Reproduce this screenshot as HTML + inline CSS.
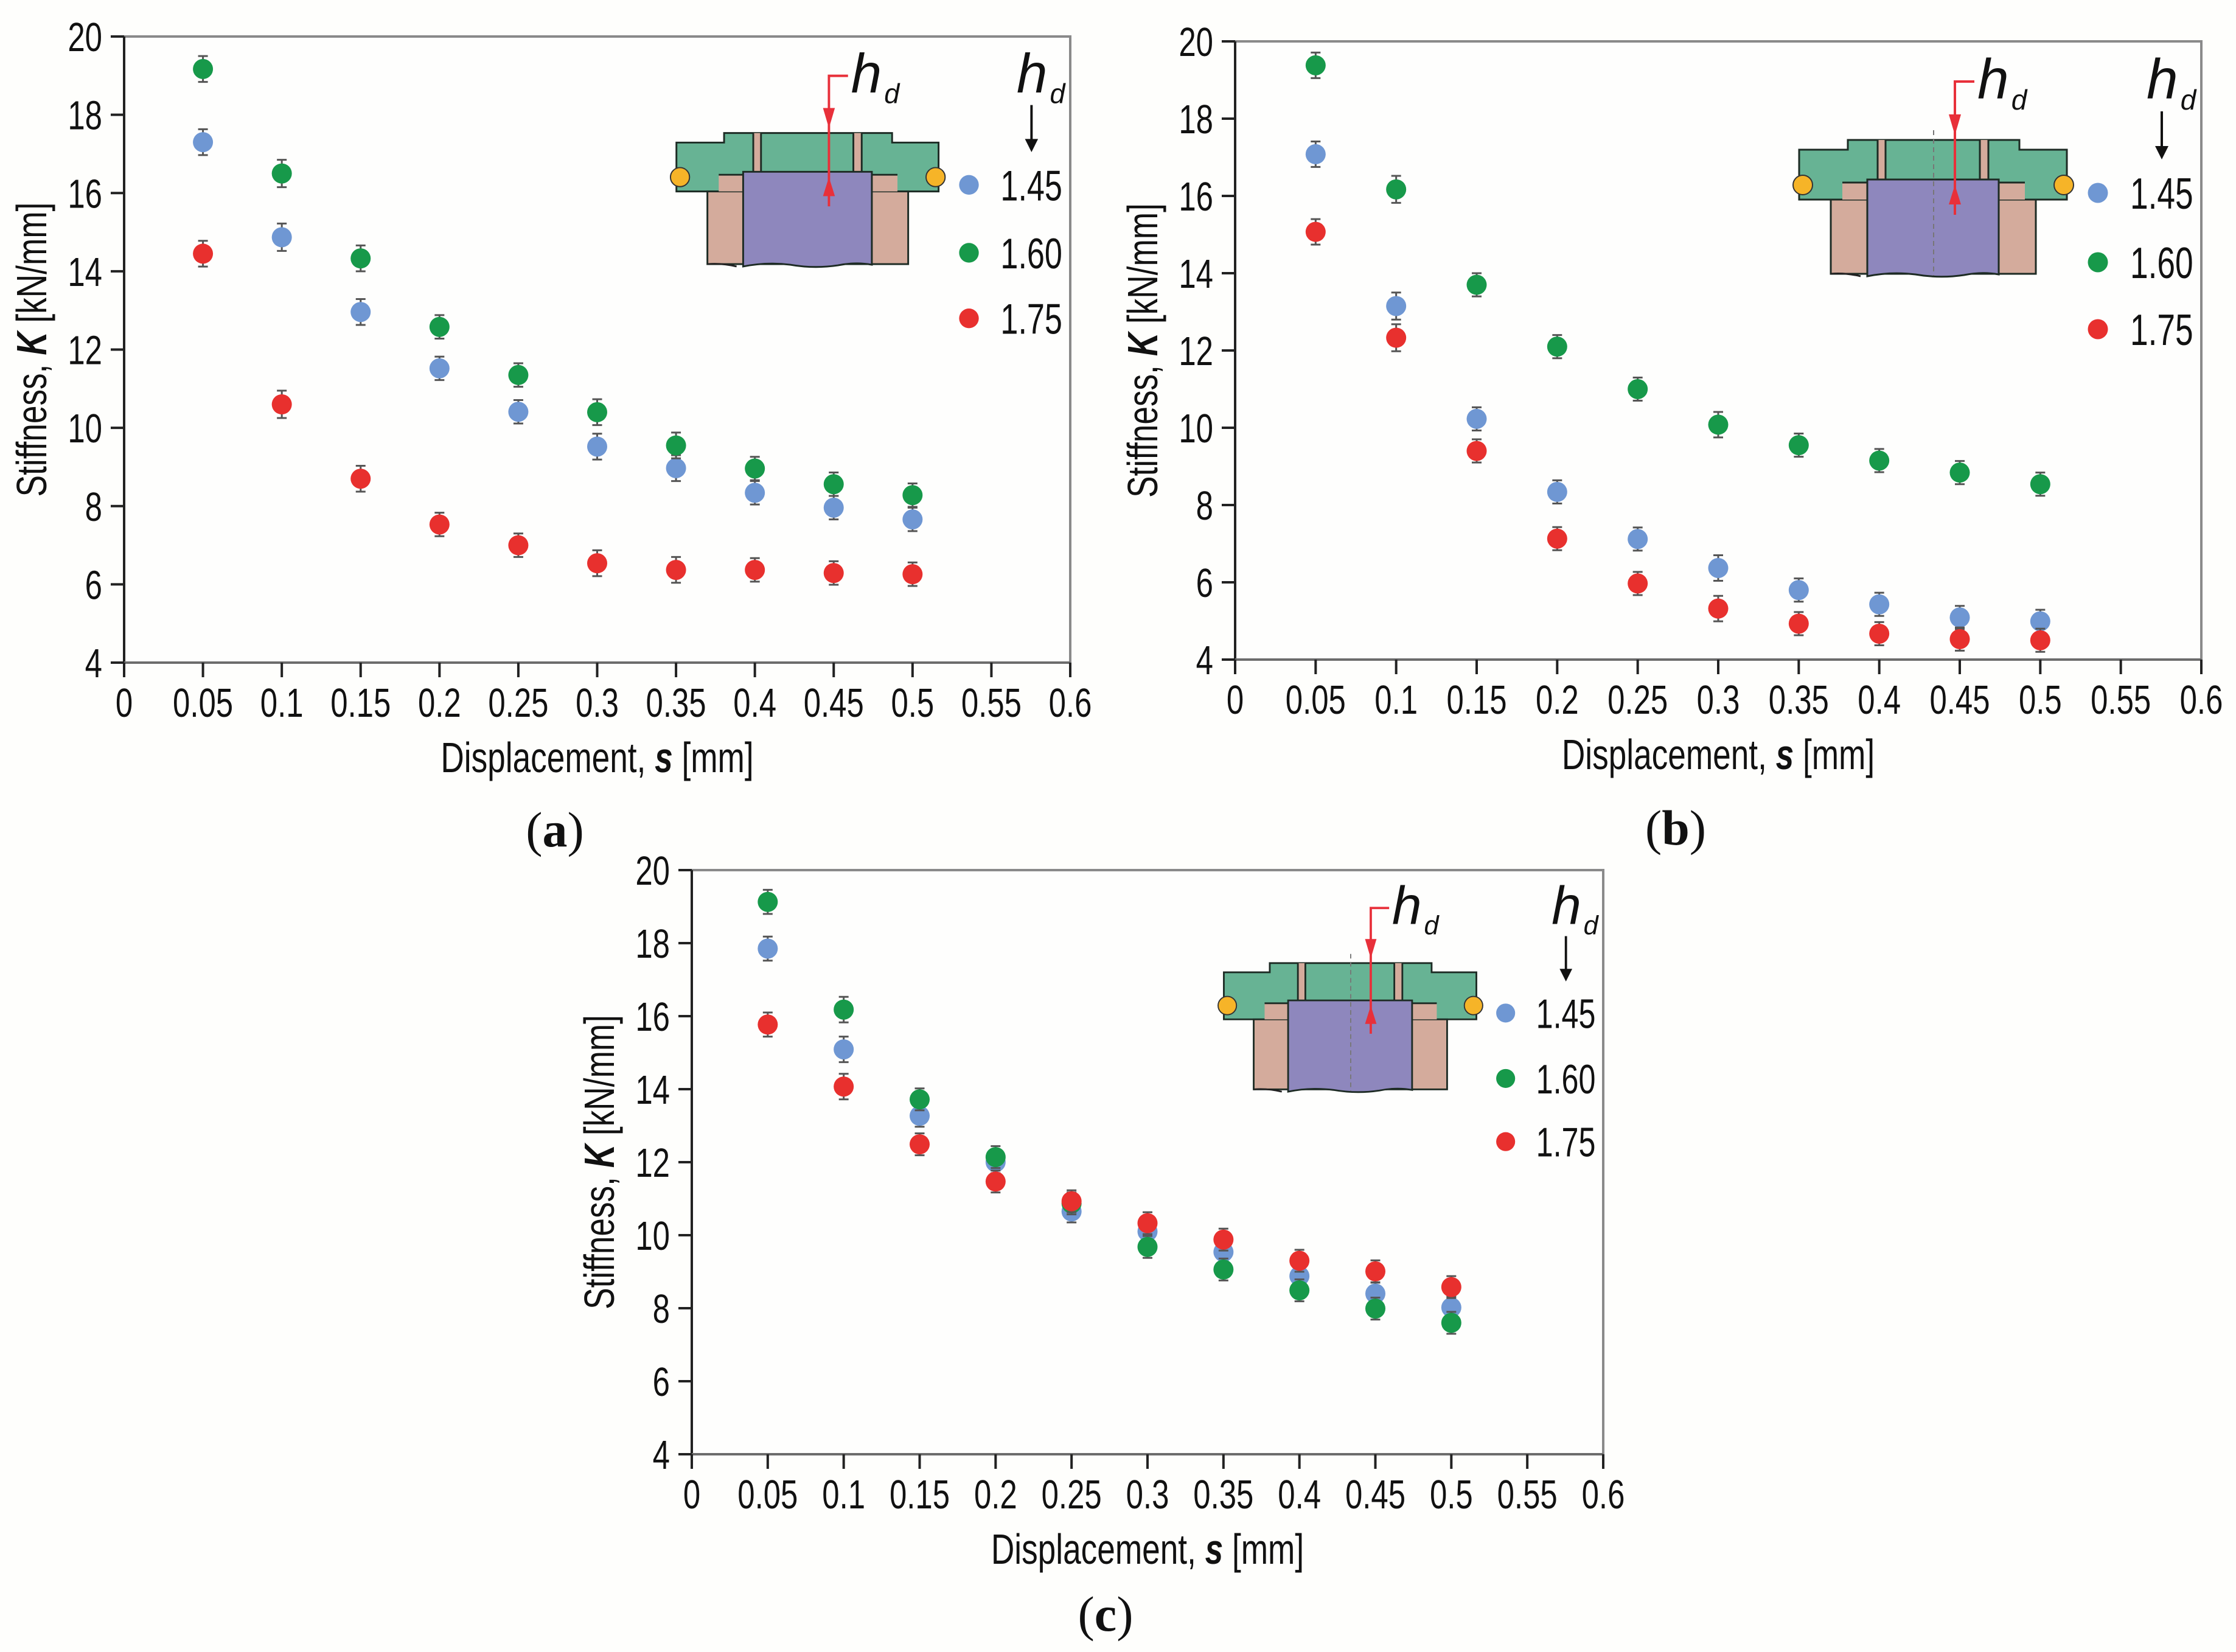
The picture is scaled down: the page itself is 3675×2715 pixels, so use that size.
<!DOCTYPE html>
<html><head><meta charset="utf-8">
<style>
html,body{margin:0;padding:0;background:#fefefc;}
svg{display:block;}
</style></head>
<body>
<svg id="fig" width="3675" height="2715" viewBox="0 0 3675 2715" xmlns="http://www.w3.org/2000/svg">
<rect x="0" y="0" width="3675" height="2715" fill="#fefefc"/>
</svg>
<script>
// ---- data ----
const xValues = [0.05,0.1,0.15,0.2,0.25,0.3,0.35,0.4,0.45,0.5];
const xTicks = [0,0.05,0.1,0.15,0.2,0.25,0.3,0.35,0.4,0.45,0.5,0.55,0.6];
const xTickLabels = ["0","0.05","0.1","0.15","0.2","0.25","0.3","0.35","0.4","0.45","0.5","0.55","0.6"];
const yTicks = [4,6,8,10,12,14,16,18,20];
const seriesNames = ["1.45","1.60","1.75"];
const a145 = [17.3,14.87,12.96,11.52,10.41,9.52,8.97,8.34,7.96,7.66];
const a160 = [19.17,16.5,14.33,12.58,11.35,10.4,9.55,8.96,8.56,8.28];
const a175 = [14.45,10.6,8.7,7.53,7.0,6.54,6.37,6.37,6.29,6.26];
const b145 = [17.08,13.15,10.23,8.34,7.12,6.37,5.8,5.43,5.09,4.99];
const b160 = [19.38,16.17,13.7,12.1,11.0,10.08,9.55,9.15,8.84,8.54];
const b175 = [15.07,12.33,9.4,7.13,5.97,5.32,4.93,4.67,4.53,4.5];
const c145 = [17.85,15.09,13.27,12.0,10.65,10.1,9.54,8.88,8.4,8.02];
const c160 = [19.13,16.18,13.72,12.14,10.87,9.68,9.06,8.49,7.99,7.6];
const c175 = [15.77,14.07,12.49,11.47,10.93,10.33,9.88,9.3,9.01,8.58];
const errA = [0.33,0.35,0.33,0.3,0.3,0.33,0.33,0.3,0.3,0.3];
const errB = [0.33,0.35,0.3,0.3,0.3,0.33,0.3,0.3,0.3,0.3];
const errC = [0.33,0.35,0.3,0.3,0.3,0.3,0.3,0.3,0.3,0.3];

const NS="http://www.w3.org/2000/svg";
const svg=document.getElementById('fig');
const COL=["#6f97d3","#17994a","#e8302e"];
const FONT='"Liberation Sans", Arial, sans-serif';
function mk(tag,attrs,parent){const e=document.createElementNS(NS,tag);for(const k in attrs)e.setAttribute(k,attrs[k]);(parent||svg).appendChild(e);return e;}
function ctext(parent,x,y,str,size,anchor,sx,extra){
  const g=mk('g',{transform:`translate(${x},${y}) scale(${sx},1)`},parent);
  const t=mk('text',Object.assign({x:0,y:0,'font-family':FONT,'font-size':size,'text-anchor':anchor,fill:'#111'},extra||{}),g);
  t.textContent=str;return t;
}

const panels=[
 {id:'a',x0:204,x1:1759,yT:60,yB:1089,data:[a145,a160,a175],err:errA,dash:false,label:'a',lx:912,ly:1383},
 {id:'b',x0:2030,x1:3618,yT:68,yB:1084,data:[b145,b160,b175],err:errB,dash:true,label:'b',lx:2754,ly:1380},
 {id:'c',x0:1137,x1:2635,yT:1430,yB:2390,data:[c145,c160,c175],err:errC,dash:true,label:'c',lx:1817,ly:2672}
];

panels.forEach(P=>{
  const g=mk('g',{});
  
  
  const X=v=>P.x0+(v/0.6)*(P.x1-P.x0);
  const Y=v=>P.yB-(v-4)/16*(P.yB-P.yT);
  const s=(P.x1-P.x0)/1588;
  const fr=mk('rect',{x:P.x0,y:P.yT,width:P.x1-P.x0,height:P.yB-P.yT,fill:'#fefefd',stroke:'#8a8a8a','stroke-width':4},g);
  
  
  const ya=mk('line',{x1:P.x0,y1:P.yT,x2:P.x0,y2:P.yB+24,stroke:'#222','stroke-width':4},g);
  
  
  const xa=mk('line',{x1:P.x0,y1:P.yB,x2:P.x1,y2:P.yB,stroke:'#6c6c6c','stroke-width':4},g);
  
  
  xTicks.forEach((v,i)=>{
    const tk=mk('line',{x1:X(v),y1:P.yB,x2:X(v),y2:P.yB+24,stroke:'#222','stroke-width':4},g);
    
    
    const t=ctext(g,X(v),P.yB+89,xTickLabels[i],67,'middle',0.76);
    
    
  });
  yTicks.forEach(v=>{
    const tk=mk('line',{x1:P.x0-22,y1:Y(v),x2:P.x0,y2:Y(v),stroke:'#222','stroke-width':4},g);
    
    
    const t=ctext(g,P.x0-36,Y(v)+24,String(v),67,'end',0.76);
    
    
  });
  const yg=mk('g',{transform:`translate(${P.x0-128},${(P.yT+P.yB)/2}) rotate(-90) scale(0.76,1)`},g);
  const yt=mk('text',{x:0,y:0,'font-family':FONT,'font-size':70,'text-anchor':'middle',fill:'#111'},yg);
  
  
  yt.innerHTML='Stiffness, <tspan font-weight="bold" font-style="italic">K</tspan> [kN/mm]';
  const xg=mk('g',{transform:`translate(${(P.x0+P.x1)/2},${P.yB+180}) scale(0.76,1)`},g);
  const xt=mk('text',{x:0,y:0,'font-family':FONT,'font-size':70,'text-anchor':'middle',fill:'#111'},xg);
  
  
  xt.innerHTML='Displacement, <tspan font-weight="bold" font-style="italic">s</tspan> [mm]';
  const pl=mk('text',{x:P.lx,y:P.ly+8,'font-family':'"Liberation Serif", serif','font-size':82,'text-anchor':'middle',fill:'#111'},g);
  
  
  pl.innerHTML='(<tspan font-weight="bold">'+P.label+'</tspan>)';

  const d=mk('g',{transform:`translate(${P.x1},${P.yT}) scale(${s})`},g);
  
  
  const st={stroke:'#1d2b24','stroke-width':3};
  mk('path',Object.assign({d:'M-661,178 L-581,178 L-581,162 L-299,162 L-299,178 L-221,178 L-221,260 L-661,260 Z',fill:'#67b394'},st),d);
  mk('rect',Object.assign({x:-609,y:260,width:337,height:122,fill:'#d4ab9c'},st),d);
  mk('rect',{x:-590,y:232,width:300,height:28,fill:'#d4ab9c'},d);
  mk('line',Object.assign({x1:-590,y1:232,x2:-290,y2:232},st),d);
  mk('rect',{x:-532,y:162,width:13,height:66,fill:'#d4ab9c'},d);
  mk('rect',{x:-364,y:162,width:14,height:66,fill:'#d4ab9c'},d);
  mk('path',Object.assign({d:'M-532,162 V228 M-519,162 V228 M-364,162 V228 M-350,162 V228',fill:'none'},st),d);
  mk('path',Object.assign({d:'M-549,227 L-333,227 L-333,383 Q-360,378 -390,384 Q-430,390 -470,383 Q-510,378 -549,386 Z',fill:'#8e87bd'},st),d);
  mk('path',{d:'M-609,382 Q-585,380 -560,386',fill:'none',stroke:'#222','stroke-width':3},d);
  if(P.dash) mk('line',{x1:-440,y1:146,x2:-440,y2:385,stroke:'#777','stroke-width':2,'stroke-dasharray':'8,6'},d);
  mk('circle',{cx:-655,cy:236,r:16,fill:'#f6b428',stroke:'#333','stroke-width':2},d);
  mk('circle',{cx:-226,cy:236,r:16,fill:'#f6b428',stroke:'#333','stroke-width':2},d);
  mk('path',{d:'M-373,66 H-405 V285',fill:'none',stroke:'#e8303a','stroke-width':4},d);
  mk('path',{d:'M-415,120 L-395,120 L-405,154 Z',fill:'#e8303a'},d);
  mk('path',{d:'M-415,268 L-395,268 L-405,236 Z',fill:'#e8303a'},d);
  const ih=mk('text',{x:-368,y:94,'font-family':FONT,'font-size':93,'font-style':'italic',fill:'#111'},d);
  
  
  ih.innerHTML='h<tspan dx="4" dy="18" font-size="46">d</tspan>';
  const lh=mk('text',{x:-90,y:94,'font-family':FONT,'font-size':93,'font-style':'italic',fill:'#111'},d);
  
  
  lh.innerHTML='h<tspan dx="4" dy="18" font-size="46">d</tspan>';
  mk('line',{x1:-65,y1:115,x2:-65,y2:180,stroke:'#111','stroke-width':4},d);
  mk('path',{d:'M-76,172 L-54,172 L-65,194 Z',fill:'#111'},d);
  const ly=[249,363,473];
  seriesNames.forEach((n,i)=>{
    const lc=mk('circle',{cx:-170,cy:ly[i],r:16.5,fill:COL[i]},d);
    
    
    const lt=ctext(d,-117,ly[i]+26,n,72,'start',0.74);
    
    
  });

  P.data.forEach((arr,si)=>{
    const sg=mk('g',{},g);
    
    
    arr.forEach((v,i)=>{
      const cx=X(xValues[i]),e=P.err[i];
      const eb=mk('path',{d:`M${cx-8},${Y(v+e)} H${cx+8} M${cx},${Y(v+e)} V${Y(v-e)} M${cx-8},${Y(v-e)} H${cx+8}`,stroke:'#555','stroke-width':3,fill:'none'},sg);
      
      
      const c=mk('circle',{cx:cx,cy:Y(v),r:16.5,fill:COL[si]},sg);
      
      
    });
  });
});
</script>
</body></html>
